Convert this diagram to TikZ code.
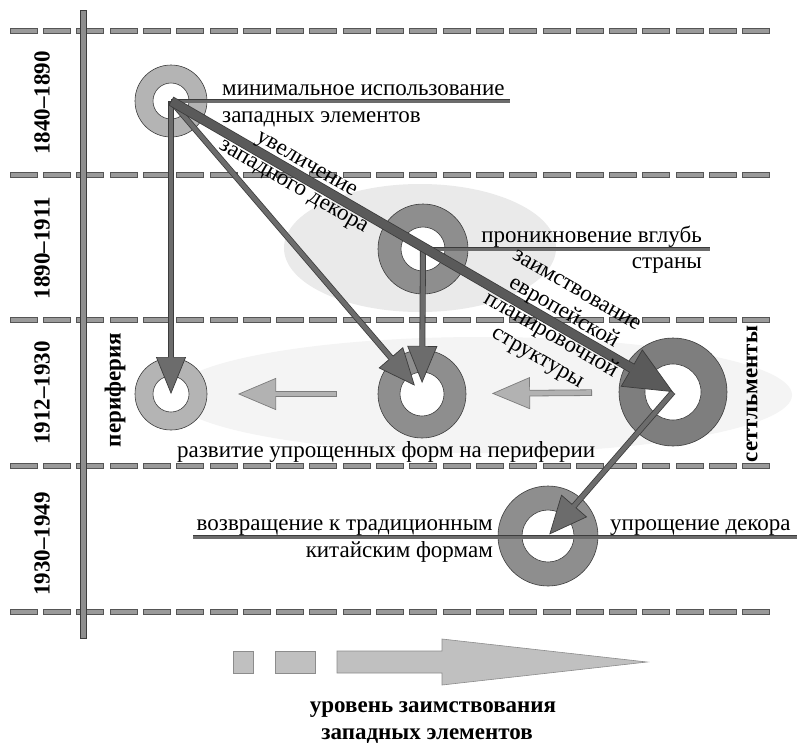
\documentclass[tikz,border=0pt]{standalone}
\usepackage{fontspec}
\setmainfont{Liberation Serif}
\usetikzlibrary{arrows.meta}
\definecolor{edgec}{HTML}{3C3C3C}
\definecolor{ringL}{HTML}{B4B4B4}
\definecolor{ringM}{HTML}{8E8E8E}
\definecolor{ringD}{HTML}{7E7E7E}
\definecolor{arrD}{HTML}{5A5A5A}
\definecolor{arrM}{HTML}{6C6C6C}
\definecolor{arrL}{HTML}{B2B2B2}
\definecolor{arrLedge}{HTML}{7C7C7C}
\definecolor{dashfill}{HTML}{9A9A9A}
\definecolor{dashedge}{HTML}{555555}
\definecolor{ellB}{HTML}{EAEAEA}
\definecolor{ellL}{HTML}{F4F4F4}
\definecolor{bigfill}{HTML}{C0C0C0}
\definecolor{bigedge}{HTML}{8C8C8C}
% #1 from, #2 to, #3 shorten start, #4 shorten end, #5 outer width,
% #6 head length, #7 head width, #8 fill colour, #9 edge colour
\newcommand\fatarrow[9]{%
  \draw[draw=#9, line width=#5, shorten <=#3, shorten >=#4,
        -{Triangle[length=#6, width=#7, line width=0.7pt, fill=#8]}] (#1) -- (#2);
  \draw[draw=#8, line width=#5-1.6pt, shorten <=#3+0.8pt, shorten >=#4+#6-1.2pt] (#1) -- (#2);
}
\begin{document}
\begin{tikzpicture}[x=1pt,y=-1pt,
  lab/.style={font=\fontsize{23}{26}\selectfont, inner sep=0pt},
  yr/.style={font=\fontsize{23}{26}\selectfont\bfseries, inner sep=0pt, rotate=90},
  ringout/.style={circle, draw=edgec, line width=0.6pt, inner sep=0pt},
  ringhole/.style={circle, draw=edgec, line width=0.6pt, fill=white, inner sep=0pt},
  dashbox/.style={draw=dashedge, fill=dashfill, line width=0.6pt},
  axisbar/.style={draw=edgec, fill=ringM, line width=0.6pt},
  labline/.style={draw=arrM, line width=3pt, preaction={draw=edgec, line width=4.4pt}},
  bigshape/.style={draw=bigedge, fill=bigfill, line width=0.6pt}]
\useasboundingbox[fill=white] (0,0) rectangle (797,745);

% background ellipses
\fill[ellL] (482,395) ellipse[x radius=310pt, y radius=58pt];
\fill[ellB] (420,248) ellipse[x radius=136pt, y radius=64pt];

% dashed period lines
\foreach \yy in {31,175,320,466,612}
  \foreach \k in {0,...,22}
    \draw[dashbox] ({10+33.3*\k},{\yy-2.5}) rectangle ++(27,5);

% time axis
\draw[axisbar] (80,10) rectangle (86,638);

% year labels
\node[yr] (y1) at (42,103) {1840–1890};
\node[yr] (y2) at (42,248) {1890–1911};
\node[yr] (y3) at (42,393) {1912–1930};
\node[yr] (y4) at (42,544) {1930–1949};

% rings
\node[ringout, fill=ringL, minimum size=72pt] (A) at (171,101) {};
\node[ringhole, minimum size=36pt] (Ah) at (A.center) {};
\node[ringout, fill=ringM, minimum size=90pt] (B) at (423,249) {};
\node[ringhole, minimum size=44pt] (Bh) at (B.center) {};
\node[ringout, fill=ringL, minimum size=72pt] (C) at (171,394) {};
\node[ringhole, minimum size=36pt] (Ch) at (C.center) {};
\node[ringout, fill=ringM, minimum size=88pt] (D) at (422,394) {};
\node[ringhole, minimum size=44pt] (Dh) at (D.center) {};
\node[ringout, fill=ringD, minimum size=108pt] (E) at (673,392) {};
\node[ringhole, minimum size=56pt] (Eh) at (E.center) {};
\node[ringout, fill=ringM, minimum size=100pt] (F) at (548,536) {};
\node[ringhole, minimum size=52pt] (Fh) at (F.center) {};

% label lines
\coordinate (Aend) at (510,101);
\coordinate (Bend) at (710,249);
\coordinate (Fl) at (193,537);
\coordinate (Fr) at (797,537);
\draw[labline] (A.center) -- (Aend);
\draw[labline] (B.center) -- (Bend);
\draw[labline] (Fl) -- (Fr);

% connectors
\fatarrow{A.center}{C.center}{0pt}{0pt}{6pt}{37pt}{30pt}{arrM}{edgec}
\fatarrow{A.center}{D.center}{0pt}{11pt}{6pt}{37pt}{32pt}{arrM}{edgec}
\fatarrow{B.center}{D.center}{0pt}{11pt}{6pt}{37pt}{30pt}{arrM}{edgec}
\fatarrow{A.center}{E.center}{0pt}{0pt}{10pt}{48pt}{43pt}{arrD}{edgec}
\fatarrow{E.center}{F.center}{0pt}{2pt}{6pt}{38pt}{34pt}{arrM}{edgec}
\fatarrow{D.center}{C.center}{85pt}{67pt}{6.5pt}{38pt}{32pt}{arrL}{arrLedge}
\fatarrow{E.center}{D.center}{81pt}{70pt}{6.5pt}{38pt}{32pt}{arrL}{arrLedge}

% texts
\node[lab, anchor=base west] (tA1) at (222,95) {минимальное использование};
\node[lab, anchor=base west] (tA2) at (222,122) {западных элементов};
\node[lab, anchor=base east] (tB1) at (702,242) {проникновение вглубь};
\node[lab, anchor=base east] (tB2) at (702,268) {страны};
\node[lab, anchor=base west] (tD) at (177,457) {развитие упрощенных форм на периферии};
\node[lab, anchor=base east] (tF1) at (493,530) {возвращение к традиционным};
\node[lab, anchor=base east] (tF2) at (493,557) {китайским формам};
\node[lab, anchor=base west] (tF3) at (610,530) {упрощение декора};
\node[lab, rotate=-30, align=center] (tAE) at (299,177) {увеличение\\западного декора};
\node[lab, rotate=-30, align=center] (tBE) at (556,326) {заимствование\\европейской\\планировочной\\структуры};
\node[yr] (per) at (115,390) {периферия};
\node[yr] (set) at (752,394) {сеттльменты};

% level scale
\draw[bigshape] (233,651) rectangle (253,673);
\draw[bigshape] (275,651) rectangle (315,673);
\draw[bigshape] (337,651) -- (442,651) -- (442,639) -- (647,662) -- (442,685) -- (442,673) -- (337,673) -- cycle;
\node[lab, font=\fontsize{23}{26}\selectfont\bfseries, anchor=base] (s1) at (433,712) {уровень заимствования};
\node[lab, font=\fontsize{23}{26}\selectfont\bfseries, anchor=base] (s2) at (427,739) {западных элементов};
\end{tikzpicture}
\end{document}
